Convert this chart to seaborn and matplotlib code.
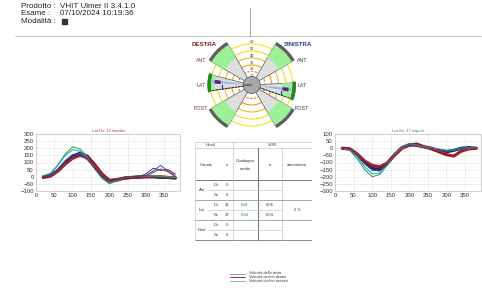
import numpy as np
import pandas as pd
import matplotlib
matplotlib.use("Agg")
import matplotlib.pyplot as plt
import seaborn as sns

sns.set_style("white")
plt.rcParams['font.family'] = ['Liberation Sans', 'DejaVu Sans']

W, H = 482, 289

# ---------------- data ----------------
header_labels = ["Prodotto :", "Esame :", "Modalità :"]
header_values = ["VHIT Ulmer II 3.4.1.0", "07/10/2024 10:19:36", ""]

t = [20, 40, 60, 80, 100, 120, 140, 160, 180, 200, 220, 240, 260, 280, 300, 320, 340, 360, 380]

left_green = [0, 25, 85, 160, 210, 195, 140, 60, -10, -50, -30, -10, 0, 0, 5, 10, 5, 0, 0]
left_teal = [5, 25, 80, 150, 190, 180, 130, 55, -10, -45, -25, -5, 0, 0, 0, 5, 0, 0, -5]
left_navy = [0, 10, 45, 100, 145, 165, 145, 85, 10, -30, -25, -10, -5, 0, 0, 0, -5, -5, -10]
left_darkred = [-5, 5, 40, 90, 130, 150, 135, 85, 20, -25, -20, -10, -5, -5, 0, 0, 0, -5, -5]
left_blue = [0, 15, 55, 115, 155, 165, 125, 65, 5, -35, -20, -5, 0, 0, 10, 40, 80, 40, 10]
left_red = [0, 5, 35, 90, 125, 145, 130, 80, 15, -30, -25, -10, 0, 5, 0, 30, 55, 35, 0]
left_purple = [0, 10, 45, 100, 140, 155, 120, 60, 0, -35, -20, -5, 0, 0, 20, 60, 45, 50, 20]

right_green = [0, -15, -75, -150, -200, -185, -120, -40, 10, 30, 25, 10, 0, -10, -20, -15, -5, 0, 0]
right_teal = [0, -10, -60, -130, -180, -175, -120, -45, 5, 30, 20, 10, 0, -5, -15, -10, 0, 5, 0]
right_navy = [0, -5, -45, -100, -140, -150, -110, -45, 5, 25, 20, 10, 0, -15, -25, -15, 0, 5, 0]
right_darkred = [0, -5, -40, -90, -120, -130, -105, -50, 0, 20, 30, 10, -5, -25, -45, -55, -20, -5, 0]
right_blue = [0, -10, -50, -110, -155, -160, -115, -45, 5, 30, 15, 5, -5, -10, -15, -10, 0, 0, 5]
right_red = [0, -5, -35, -85, -115, -125, -100, -50, 0, 15, 20, 5, 0, -20, -35, -60, -25, -5, 0]

left_title = "Lat Dx: 12 impulsi"
right_title = "Lat Sx: 17 impulsi"
left_yticks = [300, 250, 200, 150, 100, 50, 0, -50, -100]
right_yticks = [100, 50, 0, -50, -100, -150, -200, -250, -300]
xticks = [0, 50, 100, 150, 200, 250, 300, 350]

# polar diagram
wedge_names = ["ANT Dx", "LAT Dx", "POST Dx", "ANT Sx", "LAT Sx", "POST Sx"]
wedge_angle = [135, 177, 225, 45, -8, -45]
wedge_width = [30, 22, 30, 30, 22, 30]
wedge_len = [46.5, 41, 46.5, 46.5, 41, 46.5]
green_start = [31, 37, 31, 31, 30, 31]
lat_angle = [175, -7]
lat_gain_len = [40, 40]
lat_marker_r = [34, 34]
ring_r = [7, 13.5, 20, 27, 34, 41]
ring_labels = ["10", "20", "30", "40", "50", "60"]

# table
table_canals = ["Ant", "Lat", "Post"]
table_sides = ["Dx", "Sx"]
table_n = [["0", "0"], ["12", "17"], ["0", "0"]]
table_gain = [["", ""], ["0,81", "0,84"], ["", ""]]
table_sd = [["", ""], ["0,06", "0,04"], ["", ""]]
table_asym = ["", "2 %", ""]

legend_labels = ["Velocità della testa", "Velocità occhio destro", "Velocità occhio sinistro"]
legend_colors = ["#9a9a9a", "#a52a2a", "#8fb0d8"]

# ---------------- figure ----------------
fig = plt.figure(figsize=(W / 100, H / 100), dpi=100)
fig.patch.set_facecolor("white")


def rect(x0, y0, x1, y1):
    return [x0 / W, 1 - y1 / H, (x1 - x0) / W, (y1 - y0) / H]


def ftext(x, y, s, **kw):
    fig.text(x / W, 1 - y / H, s, **kw)


# header
for i, (lab, val) in enumerate(zip(header_labels, header_values)):
    y = 6 + i * 7.8
    ftext(21, y, lab, fontsize=5.8, va="center", ha="left", color="#222")
    ftext(60, y, val, fontsize=5.8, va="center", ha="left", color="#222")
fig.add_artist(plt.Rectangle((62 / W, 1 - 24 / H), 5 / W, 5 / H, color="#333", transform=fig.transFigure))
fig.add_artist(plt.Line2D([15 / W, 481 / W], [1 - 36 / H, 1 - 36 / H], color="#bbbbbb", lw=0.6))
fig.add_artist(plt.Line2D([250 / W, 250 / W], [1 - 8 / H, 1 - 36 / H], color="#999999", lw=0.6))

# traces
palette_cols = {"green": "#2e9a5a", "teal": "#1aa59a", "navy": "#1b2a70", "darkred": "#8b1a1a",
                "blue": "#2a55b5", "red": "#c42a2a", "purple": "#55307a"}


def make_df(d):
    rows = []
    for name, vals in d.items():
        for tt, v in zip(t, vals):
            rows.append((name, tt, v))
    return pd.DataFrame(rows, columns=["trace", "t", "v"])


def trace_axes(r, data, thick, yticks, title, title_color):
    ax = fig.add_axes(r)
    df = make_df(data)
    thin_df = df[~df.trace.isin(thick)]
    thick_df = df[df.trace.isin(thick)]
    sns.lineplot(data=thick_df, x="t", y="v", hue="trace", palette=palette_cols, ax=ax,
                 legend=False, linewidth=2.2, estimator=None)
    sns.lineplot(data=thin_df, x="t", y="v", hue="trace", palette=palette_cols, ax=ax,
                 legend=False, linewidth=0.7, estimator=None)
    ax.set_xlim(0, 393)
    ax.set_ylim(min(yticks), max(yticks))
    ax.set_yticks(yticks)
    ax.set_xticks(xticks)
    ax.tick_params(labelsize=4.3, length=0, pad=1.5, colors="#333")
    ax.set_xlabel("")
    ax.set_ylabel("")
    ax.grid(True, ls=(0, (2, 2)), color="#c8c8c8", lw=0.4)
    for s in ax.spines.values():
        s.set_color("#c0c0c0")
        s.set_linewidth(0.5)
    ax.set_title(title, fontsize=3, color=title_color, pad=1.5)
    return ax


trace_axes(rect(36, 134, 180, 191),
           {"green": left_green, "teal": left_teal, "blue": left_blue, "red": left_red,
            "purple": left_purple, "navy": left_navy, "darkred": left_darkred},
           ["navy", "darkred"], left_yticks, left_title, "#c03030")
trace_axes(rect(335, 134, 481, 191),
           {"green": right_green, "teal": right_teal, "blue": right_blue, "red": right_red,
            "navy": right_navy, "darkred": right_darkred},
           ["navy", "darkred"], right_yticks, right_title, "#5a6a8a")

# polar diagram
cx, cy, R = 251.7, 85, 50
pax = fig.add_axes(rect(cx - R, cy - R, cx + R, cy + R), projection="polar")
pax.set_ylim(0, 50)
pax.set_axis_off()
th = np.linspace(0, 2 * np.pi, 200)
ring_cols = ["#e04a10", "#e87010", "#f09a10", "#f0b818", "#f2dc10", "#f2e410"]
ring_ls = [(0, (2, 1.5)), (0, (2, 1.5)), "-", "-", "-", "-"]
for r, c, ls in zip(ring_r, ring_cols, ring_ls):
    pax.plot(th, [r] * len(th), color=c, lw=0.8, ls=ls, zorder=1)
for r, lab in zip(ring_r, ring_labels):
    pax.text(np.pi / 2, r + 2.2, lab, fontsize=2.8, ha="center", va="center", color="#333", zorder=6)

ang = np.deg2rad(wedge_angle)
wid = np.deg2rad(wedge_width)
pax.bar(ang, wedge_len, width=wid, bottom=0, color="#dedede", edgecolor="#5a5a5a", lw=0.5, zorder=2)
gl = [L - g for L, g in zip(wedge_len, green_start)]
pax.bar(ang, gl, width=wid, bottom=green_start, color="#9cf096", edgecolor="none", zorder=3)
pax.bar(ang, [3.2] * len(ang), width=wid, bottom=wedge_len, color="#5e5e5e", edgecolor="none", zorder=3)
lat_idx = [1, 4]
for k, i in enumerate(lat_idx):
    pax.bar(ang[i], 3.2, width=wid[i] * 1.15, bottom=wedge_len[i], color="#1f8a1f", edgecolor="none", zorder=4)
    la = np.deg2rad(lat_angle[k])
    pax.bar(la, lat_gain_len[k] - 8, width=np.deg2rad(4), bottom=8, color="#8ab8ee", edgecolor="none", zorder=4)
    pax.plot([ang[i] + wid[i] / 2 * (1 if k == 0 else -1)] * 2, [8, wedge_len[i]], color="#111",
             lw=0.6, ls=(0, (2.5, 1.5)), zorder=5)
    pax.bar(la, 6, width=np.deg2rad(6), bottom=lat_marker_r[k] - 3, color="#6a1e86", edgecolor="none", zorder=5)
    pax.plot([la + np.deg2rad(9 if k == 0 else -9)], [lat_marker_r[k] - 4], marker="|", color="#2030c0",
             ms=3, mew=0.8, zorder=5)
pax.bar(0, 8.5, width=2 * np.pi, bottom=0, color="#a8a8a8", edgecolor="#555", lw=0.5, zorder=6)

ftext(204, 45, "DESTRA", fontsize=4.4, weight="bold", color="#8b1a1a", ha="center", va="center")
ftext(298, 45, "SINISTRA", fontsize=4.4, weight="bold", color="#1f3f8f", ha="center", va="center")
for lab, y, xl, xr in zip(["ANT", "LAT", "POST"], [61, 85, 109], [201, 201, 201], [302, 302, 302]):
    ftext(xl, y, lab, fontsize=3.8, color="#7a3a3a", ha="center", va="center")
    ftext(xr, y, lab, fontsize=3.8, color="#3a3a5a", ha="center", va="center")

# table
tax = fig.add_axes(rect(195, 141, 312, 241))
tax.set_xlim(195, 312)
tax.set_ylim(241, 141)
tax.set_axis_off()
lc, dc = "#c8c8c8", "#777777"
tax.plot([195, 312], [142, 142], color=lc, lw=0.5)
tax.plot([195, 312], [148, 148], color=lc, lw=0.5)
tax.plot([195, 312], [180, 180], color=dc, lw=0.7)
tax.plot([195, 312], [240, 240], color=dc, lw=0.6)
tax.plot([195, 195], [142, 240], color=lc, lw=0.5)
tax.plot([312, 312], [142, 240], color=lc, lw=0.5)
tax.plot([233, 233], [142, 240], color=lc, lw=0.5)
tax.plot([258, 258], [148, 240], color=dc, lw=0.8)
tax.plot([282, 282], [148, 240], color=lc, lw=0.5)
group_top = [180, 200, 220]
for g in range(3):
    y0 = group_top[g]
    tax.plot([208, 282], [y0 + 10, y0 + 10], color=lc, lw=0.5)
    if g > 0:
        tax.plot([195, 312], [y0, y0], color="#999999", lw=0.6)
tax.text(211, 145, "Head", fontsize=3, ha="center", va="center", color="#333")
tax.text(272, 145, "VOR", fontsize=3, ha="center", va="center", color="#333")
tax.text(206, 165, "Canale", fontsize=3, ha="center", va="center", color="#333")
tax.text(227, 165, "n", fontsize=3, ha="center", va="center", color="#333")
tax.text(245, 165, "Guadagno\nmedio", fontsize=3, ha="center", va="center", color="#333", linespacing=2.2)
tax.text(270, 165, "σ", fontsize=3, ha="center", va="center", color="#333")
tax.text(297, 165, "asimmetria", fontsize=3, ha="center", va="center", color="#333")
for g, canal in enumerate(table_canals):
    y0 = group_top[g]
    tax.text(202, y0 + 10, canal, fontsize=3, ha="center", va="center", color="#333")
    for s, side in enumerate(table_sides):
        yy = y0 + 5 + 10 * s
        tax.text(216, yy, side, fontsize=3, ha="center", va="center", color="#333")
        tax.text(227, yy, table_n[g][s], fontsize=3, ha="center", va="center", color="#333")
        tax.text(245, yy, table_gain[g][s], fontsize=3, ha="center", va="center", color="#1a9a1a")
        tax.text(270, yy, table_sd[g][s], fontsize=3, ha="center", va="center", color="#333")
    tax.text(297, y0 + 10, table_asym[g], fontsize=3, ha="center", va="center", color="#333")

# bottom legend
for i, (lab, c) in enumerate(zip(legend_labels, legend_colors)):
    y = 273.5 + i * 3.6
    fig.add_artist(plt.Line2D([230 / W, 245 / W], [1 - y / H] * 2, color=c, lw=0.7))
    ftext(249, y, lab, fontsize=2.8, va="center", ha="left", color="#333")

fig.savefig("out.png", dpi=100)
